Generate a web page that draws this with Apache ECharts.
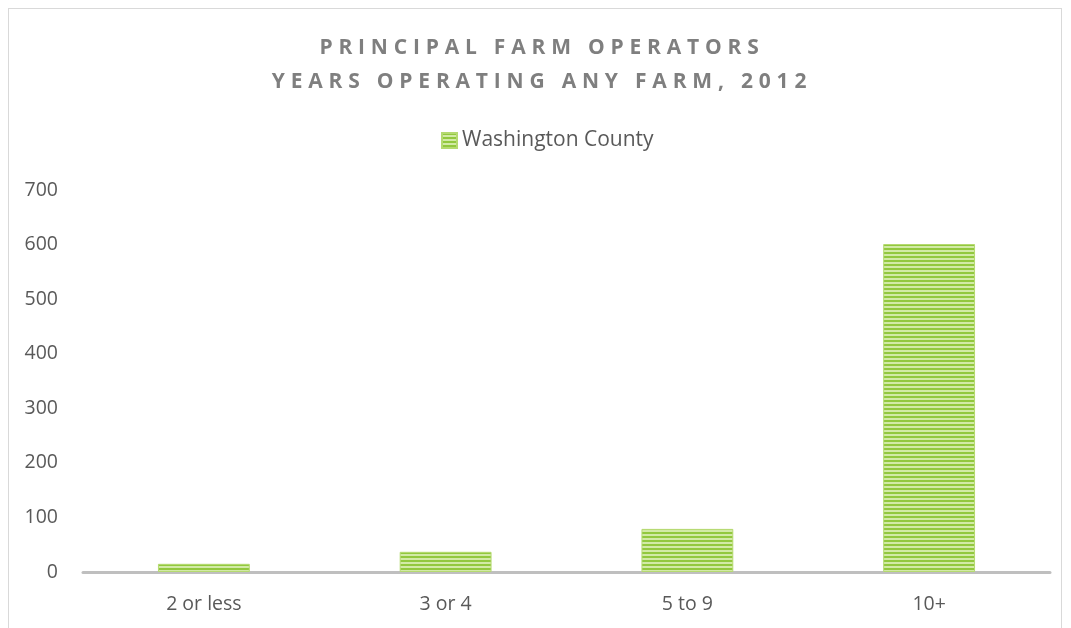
<!DOCTYPE html>
<html>
<head>
<meta charset="utf-8">
<script src="https://cdn.jsdelivr.net/npm/echarts@6/dist/echarts.min.js"></script>
<style>
html,body{margin:0;padding:0;background:#fff;}
#frame{position:absolute;left:8px;top:8px;width:1054px;height:640px;border:1px solid #d9d9d9;box-sizing:border-box;}
#title{position:absolute;left:0;top:29px;width:1071px;padding-left:13px;box-sizing:border-box;text-align:center;font-family:'Open Sans',sans-serif;font-weight:bold;font-size:21px;letter-spacing:5.8px;color:#7f7f7f;line-height:34px;}
#chart{position:absolute;left:0;top:0;width:1071px;height:628px;}
</style>
</head>
<body>
<div id="frame"></div>
<div id="chart"></div>
<div id="title">PRINCIPAL FARM OPERATORS<br>YEARS OPERATING ANY FARM, 2012</div>
<script>
const categories = ['2 or less', '3 or 4', '5 to 9', '10+'];
const seriesName = 'Washington County';
const values = [15, 37, 79, 601];
const yTicks = [0, 100, 200, 300, 400, 500, 600, 700];

function stripes() {
  const c = document.createElement('canvas');
  c.width = 4; c.height = 4;
  const ctx = c.getContext('2d');
  ctx.fillStyle = '#d2eaa6';
  ctx.fillRect(0, 0, 4, 4);
  ctx.fillStyle = '#92c83e';
  ctx.fillRect(0, 0, 4, 2);
  return c;
}
const pat = { image: stripes(), repeat: 'repeat' };
const font = "'Open Sans', sans-serif";

const chart = echarts.init(document.getElementById('chart'), null, {renderer: 'canvas'});
chart.setOption({
  animation: false,
  legend: {
    top: 125, left: 436,
    itemWidth: 15, itemHeight: 15, itemGap: 4,
    textStyle: {fontFamily: font, fontSize: 21, color: '#595959'},
    data: [{name: seriesName, icon: 'rect'}]
  },
  grid: {left: 83, right: 21, top: 190, bottom: 56, containLabel: false},
  xAxis: {
    type: 'category', data: categories,
    axisLine: {lineStyle: {color: '#bfbfbf', width: 3}},
    axisTick: {show: false},
    axisLabel: {fontFamily: font, fontSize: 19.5, color: '#595959', margin: 22}
  },
  yAxis: {
    type: 'value', min: yTicks[0], max: yTicks[yTicks.length - 1], interval: 100,
    axisLine: {show: false}, axisTick: {show: false},
    splitLine: {show: false},
    axisLabel: {fontFamily: font, fontSize: 19.5, color: '#595959', margin: 25}
  },
  series: [{
    name: seriesName, type: 'bar', data: values,
    barWidth: '38%',
    itemStyle: {color: pat, borderColor: '#b5da70', borderWidth: 1}
  }]
});
</script>
</body>
</html>
